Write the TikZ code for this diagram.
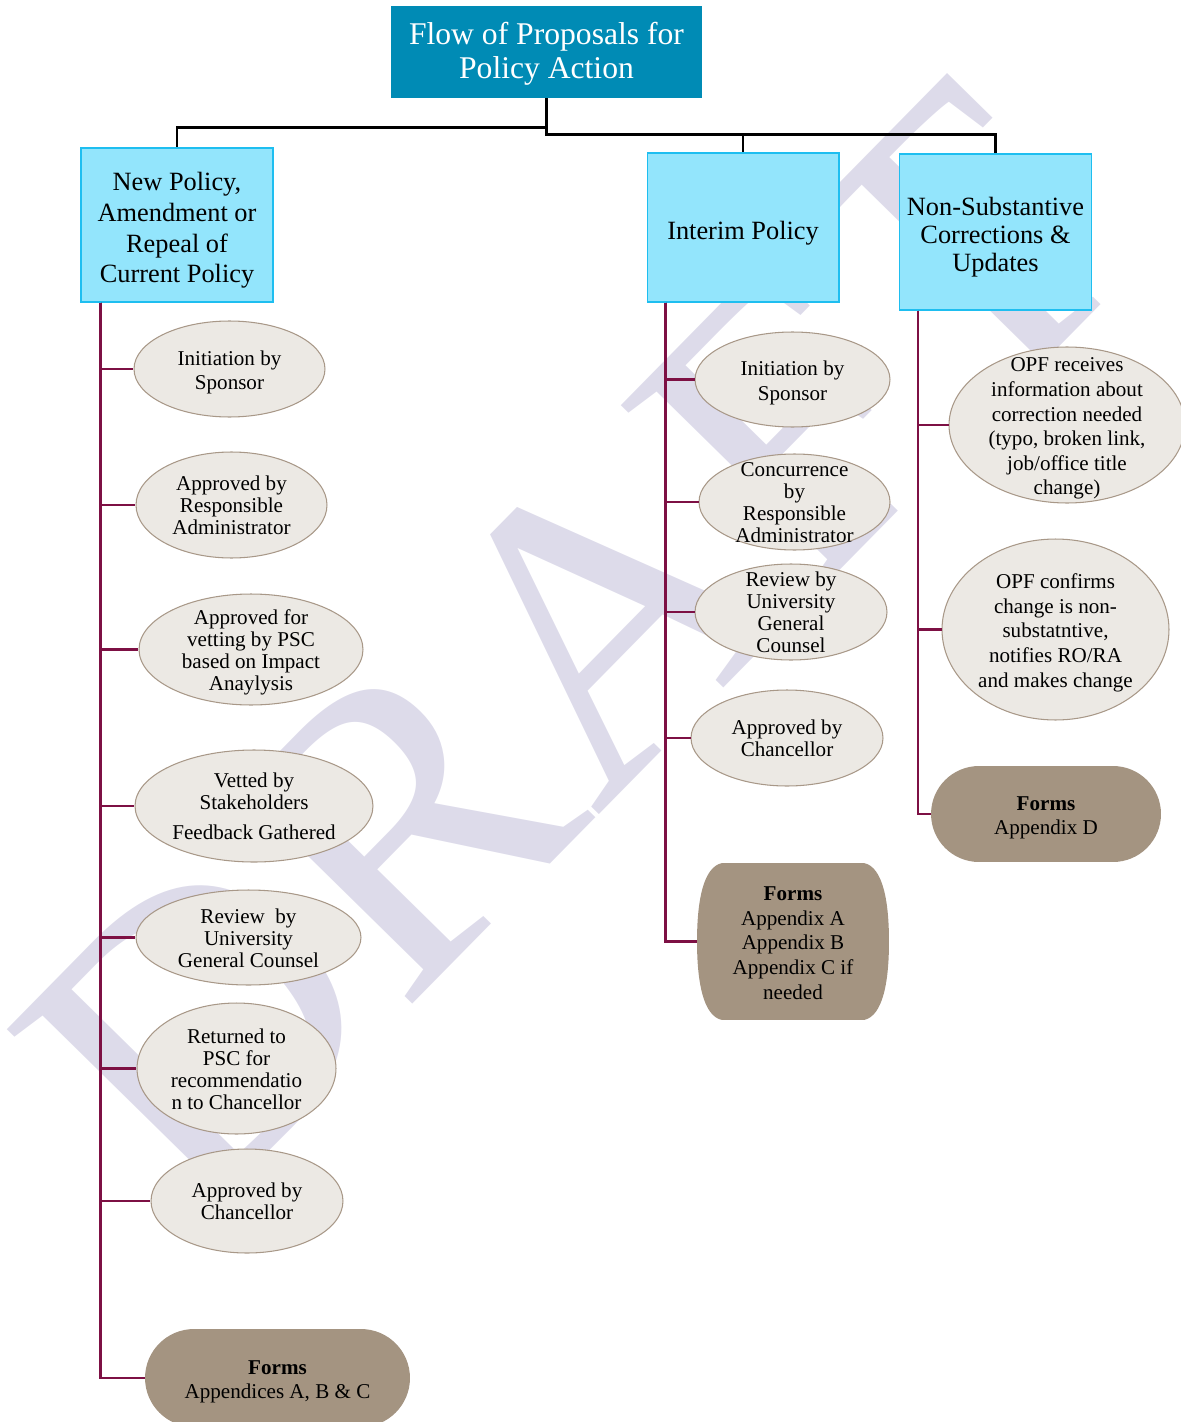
\documentclass[tikz,border=0pt]{standalone}
\usepackage{fontspec}
\setmainfont{Liberation Serif}
\usetikzlibrary{shapes,positioning,calc}
\definecolor{titleblue}{RGB}{0,139,181}
\definecolor{headfill}{RGB}{147,229,252}
\definecolor{headline}{RGB}{30,190,240}
\definecolor{ellfill}{RGB}{236,233,228}
\definecolor{ellline}{RGB}{168,152,136}
\definecolor{formfill}{RGB}{164,148,129}
\definecolor{branchred}{RGB}{125,16,68}
\definecolor{wmarkc}{RGB}{221,219,234}
% text block that does not resize its shape
\newcommand{\steptext}[2][-2pt]{\makebox[0pt]{\raisebox{\dimexpr-0.25em+#1\relax}[0pt][0pt]{\begin{tabular}{@{}c@{}}#2\end{tabular}}}}

\begin{document}
\begin{tikzpicture}[x=0.02cm, y=-0.02cm,
  titlebox/.style={fill=titleblue, text=white, inner sep=0pt, minimum width=6.22cm, minimum height=1.84cm, font=\fontsize{18}{19}\selectfont},
  headbox/.style={draw=headline, fill=headfill, line width=0.6pt, inner sep=0pt, minimum width=3.84cm, font=\fontsize{15}{17.5}\selectfont},
  stepell/.style={ellipse, draw=ellline, fill=ellfill, line width=0.6pt, inner sep=0pt, font=\fontsize{12}{12.5}\selectfont},
  loose/.style={font=\fontsize{12}{14}\selectfont},
  formbox/.style={rounded rectangle, fill=formfill, inner sep=0pt, font=\fontsize{12}{14}\selectfont},
  barrelbox/.style={inner sep=0pt, font=\fontsize{12}{14}\selectfont,
    path picture={\fill[formfill]
      ($(path picture bounding box.north east)+(-25,0)$)
        .. controls ($(path picture bounding box.north east)+(-6,4)$) and ($(path picture bounding box.east)+(0,-40)$) .. (path picture bounding box.east)
        .. controls ($(path picture bounding box.east)+(0,40)$) and ($(path picture bounding box.south east)+(-6,-4)$) .. ($(path picture bounding box.south east)+(-25,0)$)
      -- ($(path picture bounding box.south west)+(25,0)$)
        .. controls ($(path picture bounding box.south west)+(6,-4)$) and ($(path picture bounding box.west)+(0,40)$) .. (path picture bounding box.west)
        .. controls ($(path picture bounding box.west)+(0,-40)$) and ($(path picture bounding box.north west)+(6,4)$) .. ($(path picture bounding box.north west)+(25,0)$)
      -- cycle;}},
  tree/.style={line width=1.4pt},
  branch/.style={draw=branchred, line width=1.4pt},
  wmark/.style={text=wmarkc, rotate=45.5, font=\fontsize{236}{236}\selectfont}]
  \useasboundingbox (0,0) rectangle (1180,1422);
  \node[wmark] (draft) at (572,648) {DRAFT};

  \node[titlebox] (flow) at (546.5,52) {\steptext[-1.5pt]{Flow of Proposals for\\Policy Action}};
  \node[headbox, minimum height=3.08cm] (newp) at (177,225) {\steptext[-3pt]{New Policy,\\Amendment or\\Repeal of\\Current Policy}};
  \node[headbox, minimum height=2.98cm] (interim) at (743,227.5) {\steptext[-3pt]{Interim Policy}};
  \node[headbox, minimum height=3.12cm, font=\fontsize{15}{16}\selectfont] (nonsub) at (995.5,232) {\steptext[-3pt]{Non-Substantive\\Corrections \&\\Updates}};

  \coordinate (fork) at ($(flow.south)+(0,36)$);
  \draw[tree] (flow.south) -- ++(0,29) -| (newp.north);
  \draw[tree] (flow.south) -- (fork) -| (nonsub.north);
  \draw[line width=0.6pt] (fork) -| (interim.north);

  % new policy column
  \node[stepell, loose, minimum width=3.82cm, minimum height=1.92cm] (n1) at (229.5,369) {\steptext{Initiation by\\Sponsor}};
  \node[stepell, minimum width=3.82cm, minimum height=2.12cm] (n2) at (231.5,505) {\steptext{Approved by\\Responsible\\Administrator}};
  \node[stepell, minimum width=4.48cm, minimum height=2.22cm] (n3) at (251,649.5) {\steptext{Approved for\\vetting by PSC\\based on Impact\\Anaylysis}};
  \node[stepell, minimum width=4.76cm, minimum height=2.24cm] (n4) at (254,806) {\steptext{Vetted by\\Stakeholders\\[4.5pt]Feedback Gathered}};
  \node[stepell, minimum width=4.5cm, minimum height=1.9cm] (n5) at (248.5,937.5) {\steptext{Review\ \ by\\University\\General Counsel}};
  \node[stepell, minimum width=3.98cm, minimum height=2.62cm] (n6) at (236.5,1068.5) {\steptext{Returned to\\PSC for\\recommendatio\\n to Chancellor}};
  \node[stepell, minimum width=3.84cm, minimum height=2.08cm] (n7) at (247,1201) {\steptext{Approved by\\Chancellor}};
  \node[formbox, minimum width=5.3cm, minimum height=1.96cm] (nforms) at (277.5,1378) {\steptext{\textbf{Forms}\\Appendices A, B \& C}};

  % interim column
  \node[stepell, loose, minimum width=3.9cm, minimum height=1.9cm] (i1) at (792.5,379.5) {\steptext{Initiation by\\Sponsor}};
  \node[stepell, minimum width=3.82cm, minimum height=1.92cm] (i2) at (794.5,502) {\steptext{Concurrence\\by\\Responsible\\Administrator}};
  \node[stepell, minimum width=3.84cm, minimum height=1.92cm] (i3) at (791,612) {\steptext{Review by\\University\\General\\Counsel}};
  \node[stepell, minimum width=3.84cm, minimum height=1.92cm] (i4) at (787,738) {\steptext{Approved by\\Chancellor}};
  \node[barrelbox, minimum width=3.84cm, minimum height=3.14cm] (iforms) at (793,941.5) {\steptext{\textbf{Forms}\\Appendix A\\Appendix B\\Appendix C if\\needed}};

  % non-substantive column
  \node[stepell, loose, minimum width=4.72cm, minimum height=3.12cm] (s1) at (1067,425) {\steptext{OPF receives\\information about\\correction needed\\(typo, broken link,\\job/office title\\change)}};
  \node[stepell, loose, minimum width=4.54cm, minimum height=3.62cm] (s2) at (1055.5,629.5) {\steptext{OPF confirms\\change is non-\\substatntive,\\notifies RO/RA\\and makes change}};
  \node[formbox, minimum width=4.6cm, minimum height=1.92cm] (sforms) at (1046,814) {\steptext{\textbf{Forms}\\Appendix D}};

  \coordinate (ntop) at ($(newp.south west)+(20,0)$);
  \coordinate (itop) at ($(interim.south west)+(19,0)$);
  \coordinate (stop) at ($(nonsub.south west)+(19,0)$);
  \foreach \n in {n1,n2,n3,n4,n5,n6,n7,nforms}
    \draw[branch] (ntop) |- (\n.west);
  \foreach \n in {i1,i2,i3,i4,iforms}
    \draw[branch] (itop) |- (\n.west);
  \foreach \n in {s1,s2,sforms}
    \draw[branch] (stop) |- (\n.west);
\end{tikzpicture}
\end{document}
